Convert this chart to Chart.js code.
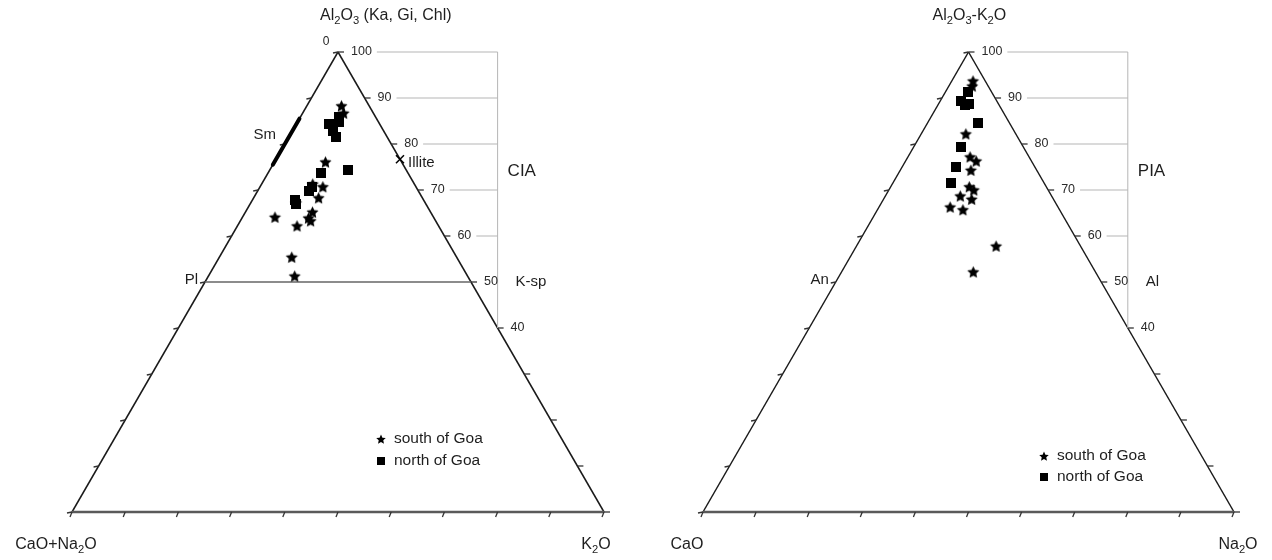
<!DOCTYPE html>
<html>
<head>
<meta charset="utf-8">
<script src="https://cdn.jsdelivr.net/npm/chart.js@4.4.1/dist/chart.umd.min.js"></script>
<style>
  html, body { margin: 0; padding: 0; background: #fff; }
  #wrap { display: flex; width: 1272px; height: 560px; }
  .cell { width: 636px; height: 560px; }
</style>
</head>
<body>
<div id="wrap">
  <div class="cell"><canvas id="ciaChart" width="636" height="560"></canvas></div>
  <div class="cell"><canvas id="piaChart" width="636" height="560"></canvas></div>
</div>
<script>
// A-CN-K diagram, % of Al2O3 (A) and K2O (K); CaO+Na2O is the rest
const ciaSouthA = [88.3, 86.7, 76.1, 70.7, 68.3, 65.2, 63.9, 63.3, 62.2, 64.1, 55.4, 51.3, 71.3, 67.2];
const ciaSouthK = [6.5, 7.7, 9.6, 11.8, 12.2, 12.6, 12.5, 13.2, 11.2, 6.1, 13.6, 16.2, 9.6, 8.5];
const ciaNorthA = [84.3, 84.8, 82.8, 81.5, 85.9, 74.3, 73.7, 70.7, 69.8, 67.8, 67.0];
const ciaNorthK = [6.1, 7.7, 7.6, 8.8, 7.3, 14.8, 9.9, 9.7, 9.6, 8.1, 8.6];

// A-C-N diagram, % of Al2O3-K2O (A) and Na2O (N); CaO is the rest
const piaSouthA = [93.7, 92.6, 82.2, 77.2, 76.3, 74.3, 70.7, 70.0, 68.7, 68.0, 66.3, 65.7, 57.8, 52.2];
const piaSouthN = [4.0, 4.4, 8.4, 11.7, 13.3, 13.3, 14.8, 16.0, 14.1, 16.6, 13.4, 16.1, 26.3, 24.8];
const piaNorthA = [91.3, 89.3, 88.5, 88.7, 84.6, 79.3, 75.0, 71.5];
const piaNorthN = [4.3, 3.9, 5.1, 5.7, 9.5, 8.9, 10.1, 10.9];

const edgeTicks = [0, 10, 20, 30, 40, 50, 60, 70, 80, 90, 100];
const indexTicks = [100, 90, 80, 70, 60, 50, 40];

const FONT = '"Liberation Sans", Arial, sans-serif';

// filled marker images
function makeStar(r) {
  const c = document.createElement('canvas');
  const s = Math.ceil(r * 2 + 2);
  c.width = s; c.height = s;
  const g = c.getContext('2d');
  g.fillStyle = '#000';
  g.beginPath();
  for (let i = 0; i < 10; i++) {
    const rad = i % 2 === 0 ? r : r * 0.48;
    const a = -Math.PI / 2 + i * Math.PI / 5;
    g.lineTo(s / 2 + rad * Math.cos(a), s / 2 + 0.6 + rad * Math.sin(a));
  }
  g.closePath();
  g.fill();
  return c;
}
function makeSquare(side) {
  const c = document.createElement('canvas');
  c.width = side; c.height = side;
  const g = c.getContext('2d');
  g.fillStyle = '#000';
  g.fillRect(0, 0, side, side);
  return c;
}
const starImg = makeStar(6.4);
const squareImg = makeSquare(10);
const starSmall = makeStar(5);
const squareSmall = makeSquare(8);

// text with one-char subscripts written as _2
function richText(ctx, str, x, y, size, align) {
  const parts = [];
  for (let i = 0; i < str.length; i++) {
    if (str[i] === '_') { parts.push({ t: str[i + 1], sub: true }); i++; }
    else parts.push({ t: str[i], sub: false });
  }
  let w = 0;
  parts.forEach(p => {
    ctx.font = (p.sub ? size * 0.7 : size) + 'px ' + FONT;
    p.w = ctx.measureText(p.t).width;
    w += p.w;
  });
  let cx = align === 'center' ? x - w / 2 : align === 'right' ? x - w : x;
  ctx.textAlign = 'left';
  ctx.textBaseline = 'middle';
  parts.forEach(p => {
    ctx.font = (p.sub ? size * 0.7 : size) + 'px ' + FONT;
    ctx.fillText(p.t, cx, p.sub ? y + size * 0.3 : y);
    cx += p.w;
  });
  return w;
}

function line(ctx, a, b, color, width) {
  ctx.strokeStyle = color;
  ctx.lineWidth = width;
  ctx.beginPath();
  ctx.moveTo(a.x, a.y);
  ctx.lineTo(b.x, b.y);
  ctx.stroke();
}

const ternaryFrame = {
  id: 'ternaryFrame',
  beforeDatasetsDraw(chart, args, opts) {
    const ctx = chart.ctx;
    const xs = chart.scales.x, ys = chart.scales.y;
    const P = (a, r) => ({ x: xs.getPixelForValue(r + a / 2), y: ys.getPixelForValue(a) });
    ctx.save();
    ctx.lineCap = 'butt';

    // edges
    line(ctx, P(0, 0), P(100, 0), '#1a1a1a', 1.5);
    line(ctx, P(100, 0), P(0, 100), '#1a1a1a', 1.5);
    line(ctx, P(0, 0), P(0, 100), '#5a5a5a', 2.4);

    // edge ticks
    edgeTicks.forEach(t => {
      const b = P(0, t);
      line(ctx, b, { x: b.x - 2, y: b.y + 5 }, '#333', 1.3);
      const l = P(t, 0);
      line(ctx, l, { x: l.x - 5, y: l.y + 1 }, '#333', 1.3);
      const r = P(t, 100 - t);
      line(ctx, r, { x: r.x + 6, y: r.y }, '#333', 1.3);
    });

    // index scale on the right
    const vx = P(40, 60).x;
    line(ctx, { x: vx, y: P(100, 0).y }, { x: vx, y: P(40, 0).y }, '#b5b5b5', 1);
    ctx.fillStyle = '#2a2a2a';
    indexTicks.forEach(t => {
      const r = P(t, 100 - t);
      const lx = t === 40 ? vx + 13 : r.x + 13;
      const w = richText(ctx, String(t), lx, r.y, 12.5, 'left');
      if (t >= 60) line(ctx, { x: lx + w + 5, y: r.y }, { x: vx, y: r.y }, '#b5b5b5', 1);
    });

    // titles and corner labels
    ctx.fillStyle = '#1e1e1e';
    const top = P(100, 0), bl = P(0, 0), br = P(0, 100);
    richText(ctx, opts.title, top.x + opts.titleDx, 16, 16, 'left');
    richText(ctx, opts.leftCorner, bl.x - 16, 545, 16, 'center');
    richText(ctx, opts.rightCorner, br.x + opts.rightDx, 545, 16, 'center');
    richText(ctx, opts.index, vx + 10, P(74, 0).y, 17, 'left');
    richText(ctx, opts.leftMid, P(50, 0).x - 7, P(50, 0).y - 2, 15, 'right');
    richText(ctx, opts.rightMid, vx + 18, P(50, 0).y, 15, 'left');

    if (opts.cia) {
      // 0 at apex
      richText(ctx, '0', top.x - 12, top.y - 10, 12, 'center');
      // plagioclase - K-feldspar join
      line(ctx, P(50, 0), P(50, 50), '#666', 1.6);
      // smectite field
      ctx.lineCap = 'round';
      line(ctx, P(75.5, 0), P(85.5, 0), '#000', 4);
      ctx.lineCap = 'butt';
      richText(ctx, 'Sm', P(82, 0).x - 14, P(82, 0).y, 15, 'right');
      // illite
      const il = P(76.7, 23.3);
      line(ctx, { x: il.x - 4, y: il.y - 4 }, { x: il.x + 4, y: il.y + 4 }, '#000', 1.5);
      line(ctx, { x: il.x - 4, y: il.y + 4 }, { x: il.x + 4, y: il.y - 4 }, '#000', 1.5);
      richText(ctx, 'Illite', il.x + 8, il.y + 4, 15, 'left');
    }

    // legend
    const lg = opts.legend;
    ctx.drawImage(starSmall, lg.x - starSmall.width / 2, lg.y - starSmall.height / 2);
    ctx.drawImage(squareSmall, lg.x - squareSmall.width / 2, lg.y + lg.gap - squareSmall.height / 2);
    ctx.fillStyle = '#1e1e1e';
    richText(ctx, 'south of Goa', lg.x + 13, lg.y, 15.5, 'left');
    richText(ctx, 'north of Goa', lg.x + 13, lg.y + lg.gap, 15.5, 'left');
    ctx.restore();
  }
};

function ternaryPoints(aArr, rArr) {
  return aArr.map((a, i) => ({ x: rArr[i] + a / 2, y: a }));
}

function makeChart(id, south, north, padding, frameOpts) {
  return new Chart(document.getElementById(id).getContext('2d'), {
    type: 'scatter',
    data: {
      datasets: [
        { label: 'south of Goa', data: south, pointStyle: starImg, clip: false },
        { label: 'north of Goa', data: north, pointStyle: squareImg, clip: false }
      ]
    },
    options: {
      responsive: false,
      animation: false,
      layout: { padding: padding },
      scales: {
        x: { type: 'linear', min: 0, max: 100, display: false },
        y: { type: 'linear', min: 0, max: 100, display: false }
      },
      plugins: {
        legend: { display: false },
        tooltip: { enabled: false },
        ternaryFrame: frameOpts
      }
    },
    plugins: [ternaryFrame]
  });
}

makeChart('ciaChart',
  ternaryPoints(ciaSouthA, ciaSouthK),
  ternaryPoints(ciaNorthA, ciaNorthK),
  { left: 72, right: 32, top: 52, bottom: 48 },
  {
    cia: true,
    title: 'Al_2O_3 (Ka, Gi, Chl)', titleDx: -18, rightDx: -8,
    leftCorner: 'CaO+Na_2O', rightCorner: 'K_2O',
    index: 'CIA', leftMid: 'Pl', rightMid: 'K-sp',
    legend: { x: 381, y: 439, gap: 22 }
  });

makeChart('piaChart',
  ternaryPoints(piaSouthA, piaSouthN),
  ternaryPoints(piaNorthA, piaNorthN),
  { left: 67, right: 38, top: 52, bottom: 48 },
  {
    cia: false,
    title: 'Al_2O_3-K_2O', titleDx: -36, rightDx: 4,
    leftCorner: 'CaO', rightCorner: 'Na_2O',
    index: 'PIA', leftMid: 'An', rightMid: 'Al',
    legend: { x: 408, y: 456, gap: 21 }
  });
</script>
</body>
</html>
